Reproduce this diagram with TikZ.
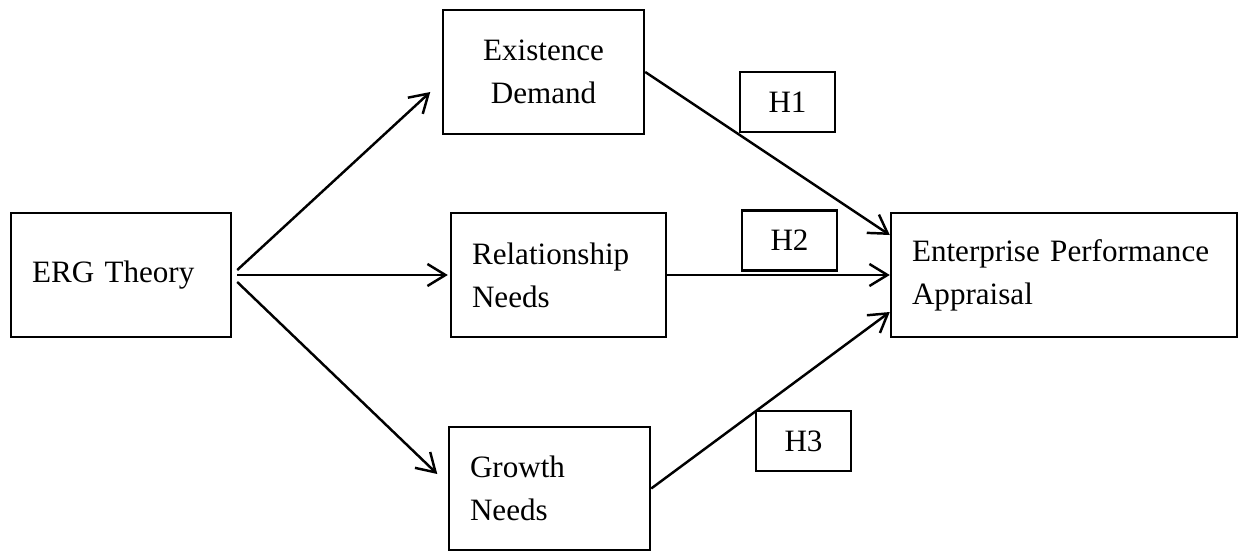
\documentclass[tikz,border=0pt]{standalone}
\usepackage{fontspec}
\setmainfont{Liberation Serif}
\usepackage{tikz}
\usetikzlibrary{positioning,arrows.meta}

\tikzset{
    box/.style={draw, line width=0.7pt, inner xsep=0.21cm, inner ysep=0pt, minimum height=1.24cm, align=left},
    hbox/.style={draw, line width=0.7pt, inner sep=0pt, minimum width=0.95cm, minimum height=0.6cm},
    conn/.style={line width=0.7pt, -{Straight Barb[length=1.8mm, width=2.2mm, line width=0.7pt]}}
}

\begin{document}
\begin{tikzpicture}[font=\fontsize{8.85}{12.2}\selectfont]
    \useasboundingbox (0,0) rectangle (12.39,5.51);

    % Theory
    \node[box, text width=1.78cm] (erg) at (1.21,2.76) {ERG Theory};

    % Needs
    \node[box, text width=1.59cm, align=center] (exist) at (5.435,4.79) {Existence\\Demand};
    \node[box, text width=1.73cm] (rel) at (5.585,2.76) {Relationship\\Needs};
    \node[box, text width=1.59cm, minimum height=1.23cm] (grow) at (5.495,0.625) {Growth\\Needs};

    % Outcome
    \node[box, text width=3.04cm] (epa) at (10.64,2.76) {\mbox{Enterprise Performance}\\Appraisal};

    % Hypotheses
    \foreach \n/\x/\y in {1/7.875/4.49, 2/7.895/3.105, 3/8.035/1.10} \node[hbox] (h\n) at (\x,\y) {H\n};

    % Theory -> needs
    \draw[conn] ([shift={(0.05,0.05)}]erg.east) -- ([shift={(-0.115,-0.20)}]exist.west);
    \draw[conn] ([xshift=0.05cm]erg.east) -- ([xshift=-0.02cm]rel.west);
    \draw[conn] ([shift={(0.05,-0.07)}]erg.east) -- ([shift={(-0.105,0.145)}]grow.west);

    % Needs -> outcome
    \draw[conn] (exist.east) -- ([yshift=0.40cm]epa.west);
    \draw[conn] (rel.east) -- (epa.west);
    \draw[conn] (grow.east) -- ([yshift=-0.37cm]epa.west);
\end{tikzpicture}
\end{document}
